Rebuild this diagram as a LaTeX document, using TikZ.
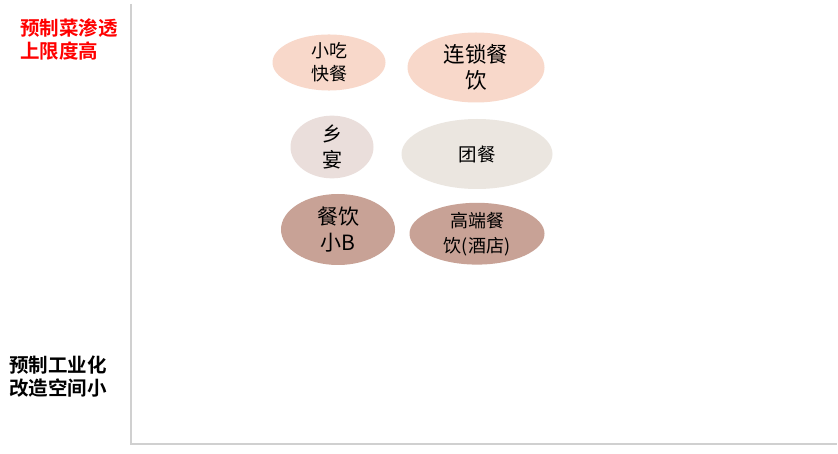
\documentclass[tikz,border=0pt]{standalone}
\usepackage{fontspec}
\newfontfamily\cjk{Noto Sans CJK SC}
\newfontfamily\cjkb{Noto Sans CJK SC Bold}
\definecolor{peach}{HTML}{F8D8CA}
\definecolor{rose}{HTML}{EADEDB}
\definecolor{stone}{HTML}{EBE6E0}
\definecolor{mocha}{HTML}{C8A296}
\definecolor{axisgray}{HTML}{D0D0D0}
\tikzset{
  blob/.style={ellipse, inner sep=0pt, text=black, align=center},
  lbl/.style={inner sep=0pt, align=left, font=\cjkb\fontsize{19.5}{23}\selectfont},
}
\usetikzlibrary{shapes.geometric}
\begin{document}
\begin{tikzpicture}[x=1pt,y=-1pt]
\useasboundingbox (0,0) rectangle (838,454);
\fill[white] (0,0) rectangle (838,454);
% axes
\coordinate (top) at (131,4);
\coordinate (origin) at (131,444);
\coordinate (right) at (837,444);
\draw[axisgray, line width=1.2pt] (top) -- (origin) -- (right);
% ellipses
\node[blob, fill=peach, minimum width=113, minimum height=46, font=\cjk\fontsize{18}{23}\selectfont] (xc) at (329,62.5) {小吃\\快餐};
\node[blob, fill=peach, minimum width=137, minimum height=70, font=\cjk\fontsize{21.5}{26.5}\selectfont] (ls) at (476,67.5) {连锁餐\\饮};
\node[blob, fill=rose, minimum width=83, minimum height=62, font=\cjk\fontsize{20}{26}\selectfont] (xy) at (332,147) {乡\\宴};
\node[blob, fill=stone, minimum width=151, minimum height=70, font=\cjk\fontsize{18.5}{23}\selectfont] (tc) at (477,154) {团餐};
\node[blob, fill=mocha, minimum width=114, minimum height=71, font=\cjk\fontsize{21}{26}\selectfont] (xb) at (338,229.5) {餐饮\\小B};
\node[blob, fill=mocha, minimum width=135, minimum height=54, font=\cjk\fontsize{18}{25}\selectfont] (gd) at (477,233.7) {高端餐\\饮(酒店)};
% side labels
\node[lbl, text=red, anchor=west] (up) at (20,39.5) {预制菜渗透\\上限度高};
\node[lbl, text=black, anchor=west] (down) at (9,376.5) {预制工业化\\改造空间小};
\end{tikzpicture}
\end{document}
